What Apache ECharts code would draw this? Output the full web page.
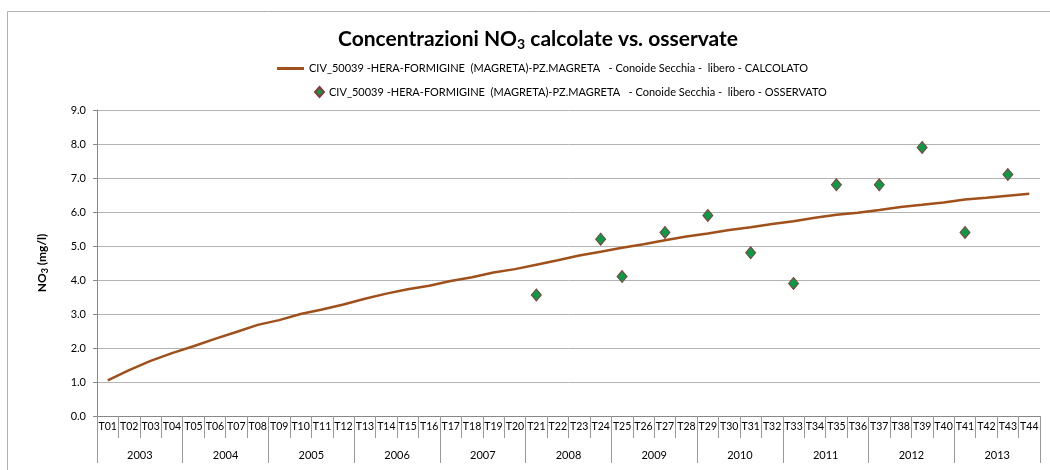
<!DOCTYPE html>
<html><head><meta charset="utf-8">
<script src="https://cdn.jsdelivr.net/npm/echarts@6/dist/echarts.min.js"></script>
<style>html,body{margin:0;padding:0;background:#fff}#c{width:1050px;height:470px}</style>
</head><body><div id="c"></div>
<script>
var categories = ['T01','T02','T03','T04','T05','T06','T07','T08','T09','T10','T11','T12','T13','T14','T15','T16','T17','T18','T19','T20','T21','T22','T23','T24','T25','T26','T27','T28','T29','T30','T31','T32','T33','T34','T35','T36','T37','T38','T39','T40','T41','T42','T43','T44'];
var years = ['2003','2004','2005','2006','2007','2008','2009','2010','2011','2012','2013'];
var calcolato = [1.05,1.35,1.62,1.85,2.05,2.27,2.47,2.68,2.82,3.00,3.13,3.28,3.45,3.60,3.73,3.83,3.97,4.08,4.22,4.32,4.45,4.58,4.72,4.83,4.95,5.05,5.17,5.28,5.37,5.47,5.55,5.65,5.73,5.83,5.92,5.98,6.06,6.15,6.21,6.28,6.37,6.42,6.48,6.54];
var osservato = [null,null,null,null,null,null,null,null,null,null,null,null,null,null,null,null,null,null,null,null,3.56,null,null,5.2,4.1,null,5.4,null,5.9,null,4.8,null,3.9,null,6.8,null,6.8,null,7.9,null,5.4,null,7.1,null];
var nameCalc = 'CIV_50039 -HERA-FORMIGINE  (MAGRETA)-PZ.MAGRETA   - Conoide Secchia -  libero - CALCOLATO';
var nameOss = 'CIV_50039 -HERA-FORMIGINE  (MAGRETA)-PZ.MAGRETA   - Conoide Secchia -  libero - OSSERVATO';

var FONT = 'Lato';
var chart = echarts.init(document.getElementById('c'));
chart.setOption({
  animation: false,
  backgroundColor: '#fff',
  graphic: [{type:'rect', shape:{x:7.5,y:11.5,width:1100,height:500}, style:{fill:'none', stroke:'#b0b0b0', lineWidth:1}, silent:true}],
  title: {
    text: '{a|Concentrazioni NO}{s|3}{a| calcolate vs. osservate}',
    left: 333, top: 22,
    textStyle: { rich: {
      a: {fontFamily: FONT, fontWeight:'bold', fontSize:21, color:'#000'},
      s: {fontFamily: FONT, fontWeight:'bold', fontSize:14, color:'#000', verticalAlign:'bottom', padding:[10,0,0,0]}
    }}
  },
  legend: [
    {data:[nameCalc], left:277, top:63, padding:0, itemWidth:27, itemHeight:3, itemGap:4, icon:'rect', textStyle:{fontFamily:FONT, fontSize:11, color:'#000'}, selectedMode:false},
    {data:[{name:nameOss, icon:'diamond'}], left:314, top:86, padding:0, itemWidth:9, itemHeight:10, textStyle:{fontFamily:FONT, fontSize:11, color:'#000'}, selectedMode:false}
  ],
  grid: {left:97, right:10, top:110, bottom:54, containLabel:false},
  xAxis: [
    {type:'category', data:categories, boundaryGap:true, position:'bottom',
     axisLine:{show:true, lineStyle:{color:'#888', width:1}},
     axisTick:{show:true, interval:0, length:22, lineStyle:{color:'#999'}},
     axisLabel:{interval:0, margin:5, fontFamily:FONT, fontSize:10.5, color:'#000'}},
    {type:'category', data:years, boundaryGap:true, position:'bottom',
     axisLine:{show:false},
     axisTick:{show:true, interval:0, length:47, lineStyle:{color:'#999'}},
     axisLabel:{interval:0, margin:34, fontFamily:FONT, fontSize:11, color:'#000'}}
  ],
  yAxis: {type:'value', min:0, max:9, interval:1,
    name:'{a|NO}{s|3}{a| (mg/l)}', nameLocation:'middle', nameGap:47, nameRotate:90,
    nameTextStyle:{rich:{
      a:{fontFamily:FONT, fontWeight:'bold', fontSize:12, color:'#000'},
      s:{fontFamily:FONT, fontWeight:'bold', fontSize:9, color:'#000', verticalAlign:'bottom', padding:[6,0,0,0]}
    }},
    axisLine:{show:true, lineStyle:{color:'#888'}},
    axisTick:{show:true, length:4, lineStyle:{color:'#888'}},
    axisLabel:{margin:11, fontFamily:FONT, fontSize:11, color:'#000', formatter:function(v){return v.toFixed(1);}},
    splitLine:{show:true, lineStyle:{color:'#b4b4b4', width:1}}
  },
  series: [
    {name:nameCalc, type:'line', data:calcolato, xAxisIndex:0, showSymbol:false, symbol:'none',
     lineStyle:{color:'#a0501a', width:2.5}, itemStyle:{color:'#a0501a'}, z:2},
    {name:nameOss, type:'scatter', data:osservato, xAxisIndex:0, symbol:'diamond', symbolSize:[10,12],
     itemStyle:{color:'#0a9a48', borderColor:'#8a3a3a', borderWidth:1, opacity:1}, z:3}
  ]
});
</script></body></html>
